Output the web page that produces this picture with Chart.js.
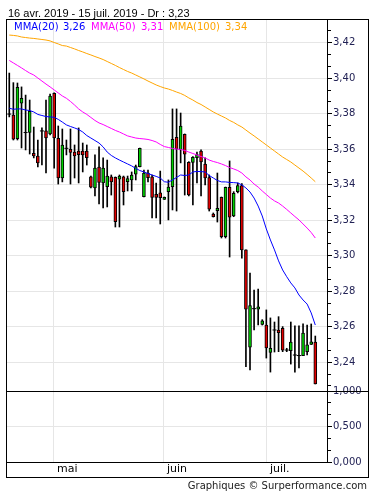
<!DOCTYPE html>
<html>
<head>
<meta charset="utf-8">
<script src="https://cdn.jsdelivr.net/npm/chart.js@4.4.0/dist/chart.umd.min.js"></script>
<style>
  html, body { margin: 0; padding: 0; background: #fff; }
  #cadre { position: relative; width: 375px; height: 495px; overflow: hidden; }
  #graph { position: absolute; left: 0; top: 0; }
  .txt { position: absolute; white-space: nowrap; }
  #titre { left: 8px; top: 7px; font: 11px/13px "Liberation Sans", Arial, sans-serif; color: #000; }
  .leg { top: 21px; font: 10px/12px "DejaVu Sans", sans-serif; }
  #credit { right: 8px; top: 480px; font: 10px/12px "DejaVu Sans", sans-serif; color: #222; }
</style>
</head>
<body>
<div id="cadre">
  <canvas id="graph" width="375" height="495"></canvas>
  <div id="titre" class="txt">16 avr. 2019 - 15 juil. 2019 - Dr : 3,23</div>
  <div class="txt leg" style="left:14px;color:#0000ff">MMA(20)</div>
  <div class="txt leg" id="v20" style="left:63px;color:#0000ff"></div>
  <div class="txt leg" style="left:91px;color:#ff00ff">MMA(50)</div>
  <div class="txt leg" id="v50" style="left:141px;color:#ff00ff"></div>
  <div class="txt leg" style="left:169px;color:#ffa500">MMA(100)</div>
  <div class="txt leg" id="v100" style="left:225px;color:#ffa500"></div>
  <div id="credit" class="txt">Graphiques © Surperformance.com</div>
</div>
<script>
// Cours journaliers du 16 avr. 2019 au 15 juil. 2019 (une valeur par séance)
const ouverture = [
  3.3798, 3.3793, 3.3660, 3.3859, 3.3694, 3.3694, 3.3577, 3.3562, 3.3703, 3.3703,
  3.3686, 3.3915, 3.3662, 3.3438, 3.3605, 3.3600, 3.3584, 3.3590, 3.3590, 3.3590,
  3.3444, 3.3382, 3.3500, 3.3410, 3.3389, 3.3444, 3.3442, 3.3431, 3.3444, 3.3417,
  3.3427, 3.3459, 3.3502, 3.3333, 3.3465, 3.3445, 3.3346, 3.3354, 3.3318, 3.3361,
  3.3389, 3.3667, 3.3596, 3.3684, 3.3526, 3.3526, 3.3553, 3.3590, 3.3517, 3.3440,
  3.3235, 3.3254, 3.3329, 3.3107, 3.3386, 3.3224, 3.3361, 3.3395, 3.3033, 3.2485,
  3.2702, 3.2699, 3.2614, 3.2610, 3.2456, 3.2582, 3.2582, 3.2592, 3.2469, 3.2465,
  3.2441, 3.2438, 3.2437, 3.2460, 3.2501, 3.2514
];
const haut = [
  3.4029, 3.3975, 3.3973, 3.3951, 3.3905, 3.3877, 3.3725, 3.3652, 3.3720, 3.3877,
  3.3911, 3.3917, 3.3731, 3.3714, 3.3652, 3.3714, 3.3624, 3.3720, 3.3635, 3.3624,
  3.3449, 3.3568, 3.3613, 3.3551, 3.3539, 3.3455, 3.3444, 3.3455, 3.3449, 3.3449,
  3.3472, 3.3511, 3.3607, 3.3483, 3.3483, 3.3455, 3.3410, 3.3477, 3.3331, 3.3427,
  3.3827, 3.3827, 3.3804, 3.3686, 3.3530, 3.3558, 3.3584, 3.3596, 3.3551, 3.3455,
  3.3241, 3.3466, 3.3331, 3.3387, 3.3534, 3.3361, 3.3410, 3.3407, 3.3033, 3.2903,
  3.2807, 3.2813, 3.2640, 3.2695, 3.2650, 3.2627, 3.2657, 3.2601, 3.2479, 3.2627,
  3.2605, 3.2605, 3.2616, 3.2610, 3.2616, 3.2548
];
const bas = [
  3.3782, 3.3652, 3.3652, 3.3607, 3.3596, 3.3573, 3.3551, 3.3500, 3.3511, 3.3466,
  3.3680, 3.3494, 3.3404, 3.3416, 3.3568, 3.3404, 3.3438, 3.3410, 3.3472, 3.3511,
  3.3382, 3.3337, 3.3292, 3.3269, 3.3275, 3.3342, 3.3162, 3.3162, 3.3286, 3.3365,
  3.3365, 3.3427, 3.3500, 3.3331, 3.3416, 3.3213, 3.3213, 3.3179, 3.3317, 3.3202,
  3.3258, 3.3252, 3.3523, 3.3342, 3.3337, 3.3286, 3.3410, 3.3337, 3.3399, 3.3252,
  3.3218, 3.3190, 3.3100, 3.3100, 3.2993, 3.3220, 3.3354, 3.2987, 3.2375, 3.2357,
  3.2582, 3.2610, 3.2610, 3.2424, 3.2345, 3.2458, 3.2460, 3.2460, 3.2460, 3.2390,
  3.2345, 3.2368, 3.2437, 3.2441, 3.2500, 3.2278
];
const cloture = [
  3.3798, 3.3656, 3.3949, 3.3887, 3.3694, 3.3813, 3.3562, 3.3523, 3.3703, 3.3663,
  3.3900, 3.3663, 3.3438, 3.3624, 3.3605, 3.3582, 3.3562, 3.3570, 3.3568, 3.3553,
  3.3387, 3.3494, 3.3413, 3.3494, 3.3449, 3.3416, 3.3192, 3.3449, 3.3361, 3.3435,
  3.3455, 3.3502, 3.3605, 3.3465, 3.3440, 3.3328, 3.3329, 3.3327, 3.3329, 3.3387,
  3.3656, 3.3601, 3.3731, 3.3572, 3.3342, 3.3555, 3.3570, 3.3528, 3.3438, 3.3262,
  3.3220, 3.3267, 3.3107, 3.3386, 3.3217, 3.3352, 3.3395, 3.3033, 3.2699, 3.2719,
  3.2702, 3.2713, 3.2633, 3.2481, 3.2479, 3.2582, 3.2567, 3.2469, 3.2469, 3.2514,
  3.2441, 3.2438, 3.2565, 3.2498, 3.2516, 3.2278
];

// Moyennes mobiles arithmétiques
const mma20 = [
  3.3831, 3.3825, 3.3827, 3.3827, 3.3821, 3.3818, 3.3810, 3.3796, 3.3790, 3.3784,
  3.3782, 3.3780, 3.3768, 3.3753, 3.3737, 3.3728, 3.3720, 3.3711, 3.3697, 3.3677,
  3.3663, 3.3649, 3.3635, 3.3613, 3.3584, 3.3565, 3.3551, 3.3539, 3.3528, 3.3517,
  3.3506, 3.3492, 3.3480, 3.3472, 3.3463, 3.3455, 3.3447, 3.3438, 3.3417, 3.3414,
  3.3427, 3.3441, 3.3455, 3.3452, 3.3455, 3.3472, 3.3475, 3.3474, 3.3472, 3.3452,
  3.3438, 3.3424, 3.3416, 3.3416, 3.3413, 3.3412, 3.3410, 3.3399, 3.3382, 3.3359,
  3.3325, 3.3280, 3.3224, 3.3151, 3.3089, 3.3033, 3.2971, 3.2920, 3.2882, 3.2847,
  3.2819, 3.2779, 3.2751, 3.2728, 3.2678, 3.2610
];
const mma50 = [
  3.4100, 3.4086, 3.4072, 3.4058, 3.4043, 3.4029, 3.4018, 3.4001, 3.3984, 3.3967,
  3.3951, 3.3934, 3.3917, 3.3900, 3.3887, 3.3869, 3.3849, 3.3827, 3.3810, 3.3796,
  3.3779, 3.3762, 3.3748, 3.3739, 3.3728, 3.3717, 3.3706, 3.3697, 3.3686, 3.3675,
  3.3669, 3.3663, 3.3660, 3.3658, 3.3655, 3.3649, 3.3641, 3.3627, 3.3615, 3.3610,
  3.3604, 3.3601, 3.3599, 3.3593, 3.3584, 3.3576, 3.3568, 3.3559, 3.3551, 3.3539,
  3.3531, 3.3525, 3.3517, 3.3508, 3.3497, 3.3489, 3.3480, 3.3466, 3.3444, 3.3427,
  3.3404, 3.3387, 3.3365, 3.3345, 3.3325, 3.3309, 3.3297, 3.3280, 3.3261, 3.3241,
  3.3221, 3.3202, 3.3179, 3.3156, 3.3131, 3.3100
];
const mma100 = [
  3.4243, 3.4241, 3.4238, 3.4232, 3.4229, 3.4226, 3.4224, 3.4221, 3.4218, 3.4215,
  3.4210, 3.4201, 3.4193, 3.4184, 3.4181, 3.4173, 3.4165, 3.4156, 3.4148, 3.4139,
  3.4131, 3.4122, 3.4114, 3.4105, 3.4094, 3.4083, 3.4072, 3.4060, 3.4049, 3.4038,
  3.4029, 3.4018, 3.4007, 3.3996, 3.3984, 3.3973, 3.3962, 3.3953, 3.3945, 3.3939,
  3.3931, 3.3922, 3.3914, 3.3903, 3.3889, 3.3877, 3.3863, 3.3852, 3.3838, 3.3824,
  3.3810, 3.3798, 3.3787, 3.3776, 3.3762, 3.3751, 3.3737, 3.3725, 3.3708, 3.3691,
  3.3675, 3.3658, 3.3641, 3.3624, 3.3607, 3.3590, 3.3573, 3.3556, 3.3542, 3.3528,
  3.3511, 3.3494, 3.3477, 3.3458, 3.3438, 3.3417
];

// Début de chaque mois (en numéro de séance) et libellés de l'axe
const moisPos = [10.95, 37.9, 63.15];
const moisNoms = ['mai', 'juin', 'juil.'];

const VERT = '#00d000';
const ROUGE = '#e00000';
const GRILLE = '#e6e6e6';
const PAS_PRIX = 0.02 / 3;

const virgule = (v, n) => v.toFixed(n).replace('.', ',');
const estMajeur = k => ((k % 3) + 3) % 3 === 0;

// Légende : dernière valeur de chaque moyenne
document.getElementById('v20').textContent = virgule(mma20[mma20.length - 1], 2);
document.getElementById('v50').textContent = virgule(mma50[mma50.length - 1], 2);
document.getElementById('v100').textContent = virgule(mma100[mma100.length - 1], 2);

const meches = [], corps = [], dojis = [];
cloture.forEach((c, i) => {
  meches.push({ x: i, y: [bas[i], haut[i]] });
  if (c === ouverture[i]) {
    dojis.push({ x: i, y: c });
  } else {
    corps.push({ x: i, y: [ouverture[i], c] });
  }
});
const couleursCorps = corps.map(d => (d.y[1] > d.y[0] ? VERT : ROUGE));
const ligne = arr => arr.map((v, i) => ({ x: i, y: v }));

function ticksPrix(scale) {
  const t = [];
  const k0 = Math.ceil((scale.min - 3.24) / PAS_PRIX - 1e-6);
  const k1 = Math.floor((scale.max - 3.24) / PAS_PRIX + 1e-6);
  for (let k = k0; k <= k1; k++) t.push({ value: 3.24 + k * PAS_PRIX, k });
  scale.ticks = t;
}

function ticksBas(scale) {
  const t = [];
  for (let k = 0; k <= 6; k++) t.push({ value: k / 6, k });
  scale.ticks = t;
}

// Cadre noir et séparation entre les deux panneaux
const cadre = {
  id: 'cadre',
  afterDraw(chart) {
    const { ctx, chartArea, scales } = chart;
    const g = chartArea.left - 0.5;
    const d = scales.y.right + 0.5;
    const h = chartArea.top - 0.5;
    const b = scales.x.bottom + 0.5;
    ctx.save();
    ctx.strokeStyle = '#000';
    ctx.lineWidth = 1;
    ctx.strokeRect(g, h, d - g, b - h);
    const sep = Math.floor(scales.y.bottom) + 0.5;
    ctx.beginPath();
    ctx.moveTo(g, sep);
    ctx.lineTo(d, sep);
    ctx.stroke();
    ctx.restore();
  }
};

const policeAxe = { family: 'DejaVu Sans', size: 10 };

new Chart(document.getElementById('graph'), {
  type: 'bar',
  data: {
    datasets: [
      { type: 'line', data: ligne(mma20), borderColor: '#0000ff', borderWidth: 1, pointRadius: 0, order: 0 },
      { type: 'line', data: ligne(mma50), borderColor: '#ff00ff', borderWidth: 1, pointRadius: 0, order: 0 },
      { type: 'line', data: ligne(mma100), borderColor: '#ffa500', borderWidth: 1, pointRadius: 0, order: 0 },
      {
        type: 'line', data: dojis, showLine: false, pointStyle: 'line', pointRadius: 2,
        pointBorderColor: '#000', pointBorderWidth: 1, order: 1
      },
      {
        data: corps, backgroundColor: couleursCorps, borderColor: '#000', borderWidth: 1,
        borderSkipped: false, barThickness: 3, grouped: false, order: 1
      },
      { data: meches, backgroundColor: '#000', barThickness: 1, grouped: false, order: 2 }
    ]
  },
  options: {
    responsive: false,
    animation: false,
    events: [],
    layout: { padding: { left: 7, right: 7, top: 20, bottom: 18 } },
    plugins: { legend: { display: false }, tooltip: { enabled: false } },
    scales: {
      x: {
        type: 'linear', position: 'bottom', min: -0.56, max: 77.87, offset: false,
        afterBuildTicks: s => { s.ticks = moisPos.map(v => ({ value: v })); },
        afterFit: s => { s.height = 15; },
        grid: { color: GRILLE, drawTicks: false, offset: false },
        border: { color: '#000' },
        ticks: {
          autoSkip: false, maxRotation: 0, align: 'start', labelOffset: 3, padding: 1,
          font: { family: 'DejaVu Sans', size: 11 }, color: '#000',
          callback: (v, i) => moisNoms[i]
        }
      },
      y: {
        type: 'linear', position: 'right', stack: 'panneaux', stackWeight: 371,
        min: 3.22384, max: 3.43278,
        afterBuildTicks: ticksPrix,
        afterFit: s => { s.width = 41; },
        grid: {
          color: c => (c.tick && estMajeur(c.tick.k) ? GRILLE : 'rgba(0,0,0,0)'),
          tickColor: '#000', tickLength: 5,
          tickBorderDash: c => (c.tick && estMajeur(c.tick.k) ? [] : [3, 40])
        },
        border: { color: '#000' },
        ticks: {
          autoSkip: false, padding: 1, font: policeAxe, color: '#222255',
          callback: (v, i, t) => (estMajeur(t[i].k) ? virgule(v, 2) : '')
        }
      },
      y2: {
        type: 'linear', axis: 'y', position: 'right', stack: 'panneaux', stackWeight: 71,
        min: 0, max: 1,
        afterBuildTicks: ticksBas,
        afterFit: s => { s.width = 41; },
        grid: {
          color: c => (c.tick && c.tick.k === 3 ? GRILLE : 'rgba(0,0,0,0)'),
          tickColor: '#000', tickLength: 5,
          tickBorderDash: c => (c.tick && estMajeur(c.tick.k) ? [] : [3, 40])
        },
        border: { color: '#000' },
        ticks: {
          autoSkip: false, padding: 1, font: policeAxe, color: '#222255',
          callback: (v, i, t) => (estMajeur(t[i].k) ? virgule(v, 3) : '')
        }
      }
    }
  },
  plugins: [cadre]
});
</script>
</body>
</html>
